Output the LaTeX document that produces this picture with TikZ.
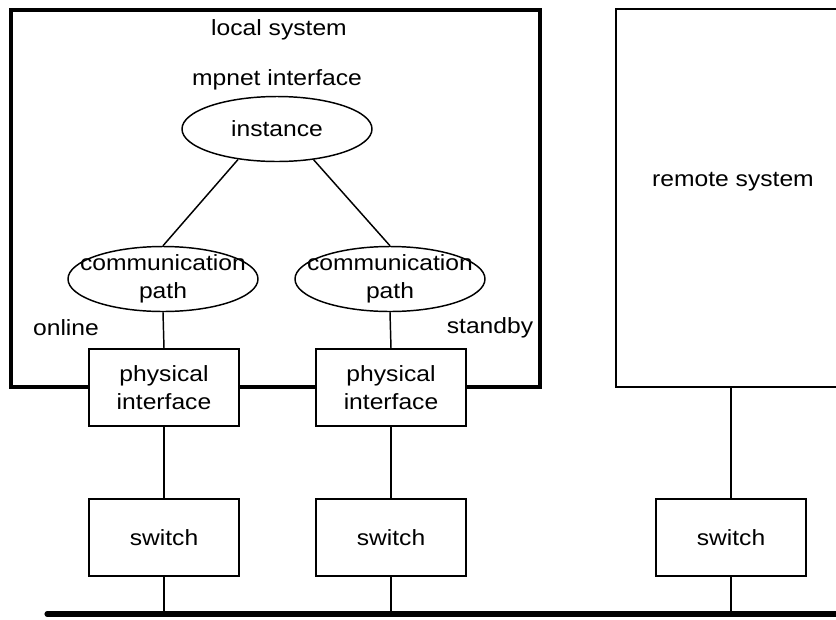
\documentclass[tikz,border=0pt]{standalone}
\usepackage{fontspec}
\setmainfont[FakeStretch=1.12]{Liberation Sans}
\usetikzlibrary{shapes.geometric}
\begin{document}
\begin{tikzpicture}[x=0.75pt,y=-0.75pt,
  every node/.style={font=\fontsize{16.5pt}{21pt}\selectfont},
  thinline/.style={line width=1.1pt},
  oval/.style={ellipse,draw,thinline,minimum width=142.5pt,minimum height=48.75pt,inner sep=0pt},
  boxnode/.style={rectangle,draw,thinline,fill=white,minimum width=112.5pt,minimum height=57.75pt,inner sep=0pt,align=center},
  lbl/.style={inner sep=0pt}]
\useasboundingbox (0,0) rectangle (836,619);
% local system
\draw[line width=3pt] (11,10) rectangle (540,387);
\node[lbl] (loc) at (279,30) {local system};
\node[lbl] (mpn) at (277,80) {mpnet interface};
\node[oval] (inst) at (277,129) {};
\node[lbl] at (inst) {instance};
\node[oval] (c1) at (163,279) {};
\node[oval] (c2) at (390,279) {};
\node[lbl,align=center] at (163,279) {communication\\path};
\node[lbl,align=center] at (390,279) {communication\\path};
\node[lbl] (onl) at (66,328) {online};
\node[lbl] (stb) at (490,328) {standby};
\node[boxnode] (p1) at (164,387.5) {physical\\interface};
\node[boxnode] (p2) at (391,387.5) {physical\\interface};
\node[boxnode] (s1) at (164,537.5) {switch};
\node[boxnode] (s2) at (391,537.5) {switch};
\node[boxnode] (s3) at (731,537.5) {switch};
% remote system
\draw[thinline] (840,9) -- (616,9) -- (616,387) -- (840,387);
\coordinate (rb) at (731,387);
\node[lbl] (rem) at (733,182) {remote system};
% bus
\coordinate (busl) at (47,614);
\coordinate (busr) at (840,614);
\coordinate (b1) at (164,614);
\coordinate (b2) at (391,614);
\coordinate (b3) at (731,614);
\draw[line width=3.8pt,line cap=round] (busl) -- (busr);
% connectors
\draw[thinline] (inst.218) -- (c1.north);
\draw[thinline] (inst.320) -- (c2.north);
\draw[thinline] (c1.south) -- (p1.north);
\draw[thinline] (c2.south) -- (p2.north);
\draw[thinline] (p1.south) -- (s1.north);
\draw[thinline] (p2.south) -- (s2.north);
\draw[thinline] (rb) -- (s3.north);
\draw[thinline] (s1.south) -- (b1);
\draw[thinline] (s2.south) -- (b2);
\draw[thinline] (s3.south) -- (b3);
\end{tikzpicture}
\end{document}
